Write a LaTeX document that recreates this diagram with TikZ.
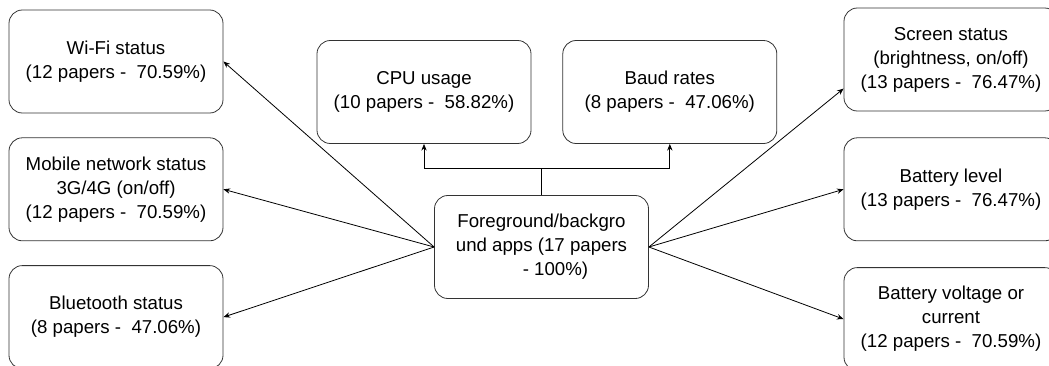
\documentclass[tikz,border=0pt]{standalone}
\usepackage{fontspec}
\setmainfont{Liberation Sans}
\usepackage{tikz}
\usetikzlibrary{arrows.meta, positioning, calc}

\begin{document}
\begin{tikzpicture}[
  x=0.75pt, y=-0.75pt,
  node distance=18pt and 23.25pt,
  every node/.style={font=\fontsize{14pt}{18pt}\selectfont},
  featbox/.style={draw=black!80, line width=0.6pt, rounded corners=10pt, minimum width=160.5pt, minimum height=77.25pt, align=center, inner sep=2pt},
  arrow/.style={-{Stealth[length=5pt, width=4pt]}, line width=0.6pt},
]
\clip (0,0) rectangle (1049,365);

% Central node
\node[featbox] (apps) at (541.5,247) {Foreground/backgro\\und apps (17 papers\\\hspace*{1.5em}- 100\%)};

% Top row
\node[featbox] (cpu) at (424,92) {CPU usage\\(10 papers - \ 58.82\%)};
\node[featbox, right=of cpu] (baud) {Baud rates\\(8 papers - \ 47.06\%)};

% Left column
\node[featbox] (wifi) at (116,61.5) {Wi-Fi status\\(12 papers - \ 70.59\%)};
\node[featbox, below=of wifi] (mobile) {Mobile network status\\3G/4G (on/off)\\(12 papers - \ 70.59\%)};
\node[featbox, below=of mobile] (bt) {Bluetooth status\\(8 papers - \ 47.06\%)};

% Right column
\node[featbox] (screen) at (951,59.5) {Screen status\\(brightness, on/off)\\(13 papers - \ 76.47\%)};
\node[featbox, below=19.5pt of screen] (batlvl) {Battery level\\(13 papers - \ 76.47\%)};
\node[featbox, below=19.5pt of batlvl] (batvolt) {Battery voltage or\\current\\(12 papers - \ 70.59\%)};

% Fork to the top row
\coordinate (fork) at ([yshift=20.25pt]apps.north);
\draw[line width=0.6pt] (apps.north) -- (fork);
\draw[arrow] (fork) -| (cpu.south);
\draw[arrow] (fork) -| (baud.south);

% Arrows to the left
\draw[arrow] (apps.west) -- (wifi.east);
\draw[arrow] (apps.west) -- (mobile.east);
\draw[arrow] (apps.west) -- (bt.east);

% Arrows to the right
\coordinate (scrin) at ($(screen.south west)!0.22!(screen.north west)$);
\draw[arrow] (apps.east) -- (scrin);
\draw[arrow] (apps.east) -- (batlvl.west);
\draw[arrow] (apps.east) -- (batvolt.west);

\end{tikzpicture}
\end{document}
